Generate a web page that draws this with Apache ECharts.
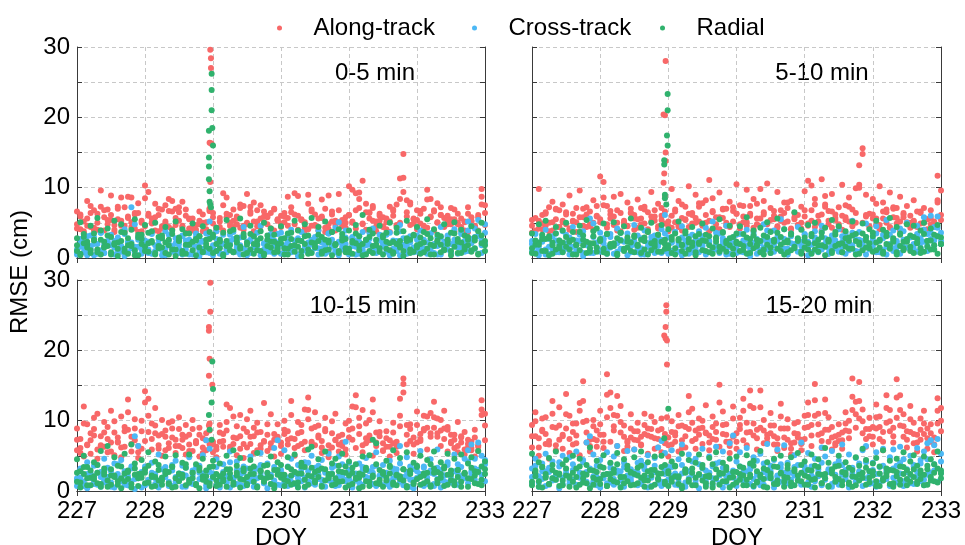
<!DOCTYPE html>
<html>
<head>
<meta charset="utf-8">
<script src="https://cdn.jsdelivr.net/npm/echarts@6/dist/echarts.min.js"></script>
<style>
  html, body { margin: 0; padding: 0; background: #fff; }
  #main { width: 965px; height: 545px; }
</style>
</head>
<body>
<div id="main"></div>
<script>
// epochs (DOY), shared by every panel
var epochs = [
  227, 227.05, 227.1, 227.15, 227.2, 227.25, 227.3, 227.35, 227.4, 227.45,
  227.5, 227.55, 227.6, 227.65, 227.7, 227.75, 227.8, 227.85, 227.9, 227.95,
  228, 228.05, 228.1, 228.15, 228.2, 228.25, 228.3, 228.35, 228.4, 228.45,
  228.5, 228.55, 228.6, 228.65, 228.7, 228.75, 228.8, 228.85, 228.9, 228.95,
  229, 229.05, 229.1, 229.15, 229.2, 229.25, 229.3, 229.35, 229.4, 229.45,
  229.5, 229.55, 229.6, 229.65, 229.7, 229.75, 229.8, 229.85, 229.9, 229.95,
  230, 230.05, 230.1, 230.15, 230.2, 230.25, 230.3, 230.35, 230.4, 230.45,
  230.5, 230.55, 230.6, 230.65, 230.7, 230.75, 230.8, 230.85, 230.9, 230.95,
  231, 231.05, 231.1, 231.15, 231.2, 231.25, 231.3, 231.35, 231.4, 231.45,
  231.5, 231.55, 231.6, 231.65, 231.7, 231.75, 231.8, 231.85, 231.9, 231.95,
  232, 232.05, 232.1, 232.15, 232.2, 232.25, 232.3, 232.35, 232.4, 232.45, 232.5,
  232.55, 232.6, 232.65, 232.7, 232.75, 232.8, 232.85, 232.9, 232.95, 233
];

// ---- 0-5 min ----
var p1AlongA = [
  6.6, 4.1, 5.2, 8.1, 7.4, 3.9, 6.3, 9.6, 5.8, 6.9,
  8.9, 4.7, 5.5, 8.6, 7.2, 8.7, 5.1, 6.4, 7.8, 3.8,
  10.3, 9.4, 5.6, 7.7, 6.1, 4.5, 7.5, 8.4, 6.6, 7.0,
  5.3, 8.0, 6.9, 4.2, 5.6, 3.6, 4.8, 6.2, 5.1, 6.7,
  4.9, 4.3, 5.7, 9.2, 8.6, 6.1, 5.3, 5.9, 7.6, 4.6,
  9.1, 7.3, 5.2, 6.8, 7.5, 5.9, 4.8, 6.4, 6.9, 5.4,
  6.0, 5.1, 8.7, 6.5, 9.2, 8.8, 5.4, 4.3, 9.0, 6.6,
  4.7, 5.6, 8.3, 7.0, 4.1, 6.2, 5.3, 9.1, 4.9, 5.8,
  10.2, 9.7, 6.8, 9.3, 11.0, 7.7, 6.5, 7.1, 5.2, 6.0,
  4.5, 5.6, 7.3, 6.7, 7.6, 11.3, 14.8, 8.2, 7.9, 5.5,
  6.8, 4.9, 7.0, 9.7, 8.4, 6.6, 7.8, 6.1, 5.7, 4.8, 7.1,
  5.5, 6.3, 4.4, 5.1, 7.2, 5.8, 4.6, 6.1, 9.8, 7.5
];
var p1AlongB = [
  4.8, 6.2, 3.5, 5.6, 4.4, 6.8, 4.0, 7.3, 3.9, 5.4,
  6.1, 3.7, 7.0, 5.3, 4.6, 5.9, 8.6, 4.2, 6.4, 5.0,
  8.5, 6.3, 4.9, 5.8, 3.8, 6.9, 5.2, 4.4, 8.1, 5.7,
  7.2, 4.6, 6.0, 5.5, 3.9, 4.7, 6.6, 5.0, 4.1, 7.0,
  6.4, 3.8, 4.4, 7.5, 5.8, 4.6, 6.9, 5.6, 4.3, 7.4,
  5.0, 6.3, 7.9, 4.5, 5.6, 6.6, 5.8, 4.2, 7.0, 5.3,
  4.9, 6.4, 5.7, 7.2, 4.8, 6.0, 5.5, 3.9, 7.7, 4.6,
  6.2, 4.4, 5.9, 3.7, 8.9, 5.2, 4.7, 6.8, 5.4, 4.3,
  6.1, 5.0, 9.2, 7.1, 4.8, 6.5, 5.6, 7.4, 4.5, 6.3,
  5.8, 4.1, 5.2, 6.9, 4.7, 8.4, 11.4, 5.9, 7.6, 4.9,
  5.4, 6.7, 4.2, 8.3, 5.9, 6.8, 5.0, 7.2, 4.6, 6.0, 5.5,
  6.9, 4.8, 5.6, 3.9, 6.3, 5.2, 4.4, 5.8, 8.7, 6.4
];
var p1AlongC = [
  4.2, 5.9, 3.8, 4.6, 6.4, 4.3, 5.0, 3.9, 6.8, 4.8,
  5.4, 4.0, 7.3, 4.6, 3.8, 5.7, 4.4, 6.2, 3.7, 5.3,
  4.5, 6.0, 5.1, 3.9, 7.0, 4.2, 4.9, 6.7, 4.1, 4.7,
  6.5, 4.4, 3.6, 5.6, 4.5, 4.0, 5.3, 3.8, 5.0, 7.0,
  5.8, 4.3, 5.2, 3.9, 6.3, 5.0, 4.4, 4.8, 7.1, 4.0,
  4.8, 6.6, 3.8, 5.2, 4.5, 5.1, 6.0, 4.2, 3.9, 5.5,
  4.4, 5.9, 4.6, 3.7, 6.2, 4.0, 5.4, 5.1, 4.1, 6.9,
  4.6, 3.9, 5.7, 4.3, 4.8, 6.6, 3.9, 5.1, 4.5, 5.0,
  6.1, 5.2, 4.2, 8.4, 4.9, 4.0, 6.4, 5.3, 3.8, 5.3,
  4.4, 5.1, 3.7, 6.0, 4.6, 5.0, 9.4, 6.5, 4.7, 5.6,
  4.1, 6.3, 4.6, 4.3, 5.8, 3.9, 5.1, 6.1, 4.4, 5.4, 4.8,
  3.8, 5.0, 4.2, 5.2, 3.7, 5.3, 4.5, 3.9, 7.6, 4.7
];
var p1CrossA = [
  1.2, 2.4, 0.8, 3.1, 1.7, 2.9, 0.6, 3.6, 1.9, 2.2,
  3.3, 1.5, 2.7, 0.9, 4.1, 2.3, 7.2, 4.8, 1.6, 3.0,
  2.1, 0.7, 3.4, 1.8, 2.6, 1.1, 3.8, 2.0, 0.9, 2.8,
  1.4, 3.2, 2.5, 0.5, 1.9, 3.0, 2.2, 1.3, 3.5, 5.2,
  0.4, 2.7, 1.6, 3.3, 0.8, 2.4, 3.7, 1.5, 2.9, 4.4,
  1.0, 2.6, 3.1, 1.7, 4.6, 2.0, 0.9, 3.4, 2.5, 1.2,
  3.6, 1.8, 2.3, 4.0, 1.1, 2.8, 0.7, 3.2, 1.9, 2.6,
  1.4, 3.9, 2.2, 0.8, 3.5, 1.6, 4.3, 5.1, 2.0, 2.9,
  1.3, 3.0, 2.4, 0.6, 3.7, 1.8, 2.7, 4.2, 1.5, 3.3,
  2.1, 0.9, 3.6, 2.5, 1.2, 4.7, 2.8, 1.7, 3.1, 0.8,
  2.6, 3.9, 1.4, 2.2, 3.5, 0.7, 2.9, 4.4, 1.9, 3.2, 2.0,
  4.1, 1.6, 3.7, 2.3, 5.2, 4.6, 3.0, 5.4, 2.5, 4.8
];
var p1CrossB = [
  0.5, 1.6, 2.2, 0.9, 1.3, 0.4, 2.0, 1.1, 0.7, 1.8,
  0.6, 2.4, 1.0, 1.7, 0.3, 2.1, 1.4, 0.8, 2.6, 1.2,
  1.5, 2.3, 0.6, 1.0, 1.9, 0.4, 1.3, 2.5, 1.7, 0.8,
  2.0, 0.5, 1.2, 2.2, 0.9, 1.6, 0.3, 2.4, 1.1, 0.7,
  1.8, 1.0, 2.6, 0.6, 1.4, 2.1, 0.8, 1.9, 0.5, 1.3,
  2.3, 0.7, 1.5, 2.0, 0.4, 1.2, 2.5, 0.9, 1.7, 2.2,
  0.6, 1.4, 2.1, 0.8, 1.6, 0.3, 2.4, 1.1, 0.7, 1.9,
  2.2, 0.5, 1.3, 1.8, 0.9, 2.6, 1.0, 0.4, 1.5, 2.0,
  0.8, 1.7, 0.5, 2.3, 1.2, 0.6, 1.9, 1.4, 2.5, 0.9,
  1.6, 2.1, 0.7, 1.3, 2.4, 0.4, 1.8, 1.0, 2.2, 1.5,
  0.9, 1.4, 2.6, 0.6, 1.1, 2.0, 1.7, 0.5, 2.3, 1.2, 0.8,
  1.9, 0.6, 1.5, 2.4, 1.0, 2.7, 1.3, 3.2, 0.7, 2.1
];
var p1CrossC = [
  0.9, 2.7, 1.5, 0.4, 3.2, 2.0, 1.1, 3.6, 0.7, 2.4,
  1.8, 0.5, 2.9, 1.3, 3.4, 0.8, 2.2, 1.6, 3.0, 0.6,
  2.5, 1.2, 3.7, 0.9, 1.9, 2.8, 0.4, 3.3, 1.4, 2.1,
  0.7, 3.1, 1.7, 2.6, 0.5, 3.5, 1.0, 2.3, 0.8, 2.9,
  1.5, 3.8, 0.6, 2.0, 1.2, 3.3, 2.7, 0.9, 1.8, 3.0,
  0.4, 2.4, 1.6, 3.6, 0.8, 2.1, 1.3, 2.9, 0.6, 3.4,
  1.9, 0.7, 3.2, 1.1, 2.5, 0.5, 3.7, 1.5, 2.2, 0.9,
  3.0, 1.4, 2.6, 0.6, 3.5, 1.8, 0.8, 2.3, 1.2, 3.9,
  0.5, 2.8, 1.6, 3.1, 0.9, 2.0, 3.6, 1.3, 0.7, 2.5,
  1.7, 3.3, 0.4, 2.2, 1.0, 3.8, 1.9, 0.6, 2.7, 1.4,
  3.2, 0.8, 2.4, 1.1, 3.5, 1.7, 0.5, 2.9, 1.3, 3.0, 0.7,
  2.6, 1.5, 3.4, 0.9, 3.9, 2.1, 4.2, 3.1, 1.8, 3.6
];
var p1RadialA = [
  2.8, 5.1, 3.4, 1.9, 4.6, 2.5, 5.7, 3.9, 1.6, 4.2,
  3.0, 5.3, 2.2, 4.8, 3.6, 1.8, 4.0, 5.5, 2.9, 3.3,
  4.7, 2.1, 3.8, 5.0, 1.7, 3.2, 4.4, 2.6, 3.9, 5.2,
  2.4, 4.1, 3.5, 1.9, 4.9, 2.7, 3.1, 4.5, 2.0, 3.7,
  3.0, 4.3, 2.3, 3.6, 5.4, 1.8, 4.0, 2.9, 5.6, 3.4,
  2.2, 4.6, 3.1, 1.9, 3.8, 5.0, 2.6, 4.2, 3.3, 2.0,
  4.5, 2.8, 3.5, 1.7, 5.3, 3.9, 2.4, 4.8, 3.2, 5.7,
  2.1, 4.4, 3.0, 5.2, 2.5, 3.7, 1.9, 4.1, 3.4, 2.7,
  3.9, 2.2, 4.7, 3.1, 6.1, 2.6, 4.0, 3.5, 1.8, 4.6,
  2.9, 3.6, 5.0, 2.3, 4.3, 1.7, 3.8, 5.3, 2.6, 3.2,
  4.4, 2.0, 3.7, 5.5, 2.8, 4.1, 3.3, 1.9, 4.8, 2.5, 3.6,
  5.1, 2.7, 4.0, 3.2, 1.8, 4.5, 2.9, 3.8, 5.0, 2.4
];
var p1RadialB = [
  1.0, 0.4, 2.1, 1.5, 0.7, 2.6, 1.2, 0.5, 2.3, 1.7,
  0.8, 1.9, 0.3, 2.4, 1.3, 0.6, 2.0, 1.1, 0.4, 2.7,
  1.6, 0.9, 2.2, 0.5, 1.4, 2.8, 0.7, 1.8, 1.2, 0.3,
  2.5, 1.0, 0.6, 1.9, 2.3, 0.4, 1.5, 0.9, 2.6, 1.3,
  0.7, 2.0, 1.4, 0.3, 2.4, 1.1, 0.8, 2.2, 1.6, 0.5,
  1.9, 1.2, 0.6, 2.5, 1.0, 0.4, 1.7, 2.3, 0.8, 1.4,
  2.1, 0.5, 1.3, 2.7, 0.9, 1.6, 0.3, 2.0, 1.2, 0.7,
  1.5, 2.4, 0.6, 1.1, 2.2, 0.4, 1.8, 1.0, 2.5, 0.8,
  1.3, 0.6, 2.1, 1.7, 0.4, 2.6, 1.0, 0.7, 1.9, 1.4,
  0.5, 2.3, 1.1, 0.8, 2.0, 1.5, 0.3, 2.4, 1.2, 0.9,
  1.8, 0.6, 2.2, 1.3, 0.5, 1.7, 2.5, 0.8, 1.1, 2.0, 0.4,
  1.6, 2.3, 0.7, 1.2, 2.6, 0.9, 1.4, 0.5, 2.1, 1.0
];
var p1RadialC = [
  1.8, 0.6, 3.0, 2.3, 1.1, 3.5, 0.8, 2.6, 1.5, 3.2,
  0.5, 2.1, 1.3, 3.7, 0.9, 2.8, 1.7, 0.4, 3.3, 2.0,
  1.0, 3.6, 2.4, 0.7, 3.0, 1.5, 2.2, 0.5, 3.4, 1.2,
  2.9, 0.6, 1.9, 3.5, 1.1, 2.5, 3.1, 0.8, 1.6, 2.7,
  3.3, 1.0, 2.6, 0.5, 1.7, 3.8, 0.9, 2.4, 1.3, 3.0,
  0.7, 3.4, 2.0, 1.1, 2.8, 0.6, 3.2, 1.5, 2.3, 0.9,
  2.7, 1.4, 0.5, 3.6, 1.8, 2.5, 1.0, 3.1, 0.6, 2.2,
  1.6, 3.3, 0.9, 2.6, 1.2, 3.7, 2.0, 0.7, 2.9, 1.4,
  0.8, 2.4, 3.5, 1.1, 2.0, 0.5, 3.0, 1.7, 2.6, 0.9,
  3.2, 1.3, 2.1, 0.6, 3.6, 2.4, 1.0, 2.8, 0.7, 3.3,
  1.5, 2.9, 0.8, 3.4, 1.9, 0.5, 2.3, 3.1, 1.2, 2.6, 1.0,
  3.5, 0.7, 2.2, 1.6, 3.0, 1.1, 2.5, 0.6, 3.2, 1.8
];
var p1SpikeAlong = [[228.96, 29.6], [228.97, 28.4], [228.97, 27.0], [228.95, 16.4], [228.97, 16.3], [228.98, 16.2], [228.96, 10.8], [228.95, 6.7]];
var p1SpikeRadial = [[228.98, 26.2], [228.98, 23.9], [228.98, 21.0], [228.99, 18.5], [228.94, 18.1], [229.0, 16.0], [228.94, 14.3], [228.94, 13.0], [228.94, 11.2], [228.95, 9.5], [228.95, 8.0], [228.96, 7.6], [228.97, 7.2]];

// ---- 5-10 min ----
var p2AlongA = [
  5.4, 3.9, 9.8, 6.1, 4.6, 7.2, 8.0, 5.5, 6.8, 7.6,
  4.8, 8.9, 6.3, 5.1, 9.6, 7.0, 4.4, 6.6, 8.2, 5.9,
  11.6, 10.8, 7.4, 6.2, 8.7, 5.0, 9.1, 4.7, 7.9, 6.4,
  5.6, 8.3, 7.1, 4.9, 6.5, 9.4, 5.3, 7.7, 6.0, 8.8,
  4.5, 9.8, 6.9, 8.1, 5.7, 7.3, 10.2, 6.4, 9.0, 5.2,
  7.8, 6.1, 11.1, 8.5, 5.8, 9.3, 7.0, 4.6, 8.0, 6.7,
  10.5, 7.5, 5.9, 9.7, 6.3, 8.4, 4.8, 9.8, 6.2, 10.6,
  7.1, 5.5, 9.4, 6.8, 7.9, 5.2, 8.1, 6.4, 4.7, 7.3,
  9.5, 11.0, 10.3, 7.6, 6.0, 11.2, 8.8, 6.7, 9.1, 5.4,
  7.2, 10.4, 5.8, 8.6, 6.9, 9.9, 13.2, 14.8, 9.0, 6.3,
  8.4, 5.6, 10.2, 7.9, 6.5, 9.3, 7.0, 5.7, 8.7, 6.2, 7.4,
  5.0, 8.2, 6.6, 4.9, 7.1, 5.5, 6.8, 4.6, 11.7, 9.6
];
var p2AlongB = [
  3.6, 5.7, 4.2, 4.9, 6.3, 3.8, 5.1, 6.9, 4.4, 5.3,
  6.5, 4.0, 5.2, 7.1, 3.7, 5.8, 6.2, 4.5, 5.0, 7.4,
  5.5, 8.6, 4.8, 6.7, 5.9, 3.9, 6.4, 5.3, 4.6, 7.0,
  6.1, 4.3, 5.6, 7.3, 4.1, 5.9, 6.8, 4.5, 5.4, 6.6,
  3.8, 6.0, 5.1, 4.4, 7.6, 5.5, 6.3, 4.9, 5.7, 7.8,
  4.7, 8.2, 5.3, 6.5, 4.2, 5.8, 6.9, 5.0, 4.6, 7.2,
  6.3, 4.8, 7.4, 5.1, 6.0, 4.3, 7.7, 5.6, 8.1, 4.9,
  5.4, 6.7, 4.5, 5.9, 6.4, 7.9, 4.2, 5.5, 6.1, 5.0,
  6.8, 4.6, 5.3, 8.4, 5.0, 6.2, 7.3, 4.8, 6.6, 5.7,
  4.4, 6.0, 7.5, 5.2, 4.9, 6.4, 10.4, 15.6, 5.9, 4.5,
  6.2, 7.7, 4.7, 5.6, 6.9, 4.3, 5.8, 7.1, 5.2, 6.4, 4.8,
  6.0, 5.3, 4.4, 6.6, 5.0, 4.1, 5.7, 5.2, 7.9, 6.1
];
var p2AlongC = [
  4.6, 3.8, 5.3, 4.1, 6.5, 5.0, 3.9, 7.0, 4.4, 5.1,
  6.2, 4.2, 5.3, 3.7, 5.8, 4.6, 7.2, 4.8, 4.0, 6.0,
  5.1, 7.5, 4.3, 5.6, 4.7, 6.8, 3.8, 5.0, 4.5, 6.4,
  4.0, 5.5, 4.8, 6.9, 3.7, 5.2, 5.9, 4.2, 7.1, 4.9,
  5.2, 4.3, 6.6, 4.6, 3.9, 5.4, 4.4, 6.1, 5.0, 7.3,
  4.6, 5.0, 3.8, 6.7, 4.8, 4.1, 5.7, 7.0, 4.4, 5.2,
  6.3, 4.2, 5.1, 4.6, 7.4, 3.9, 5.6, 4.5, 6.5, 4.8,
  3.8, 6.0, 4.3, 5.3, 5.0, 7.1, 4.0, 5.8, 4.7, 4.2,
  5.9, 4.9, 6.8, 4.4, 5.2, 3.9, 7.6, 5.3, 4.3, 6.2,
  4.8, 4.0, 5.4, 7.3, 4.5, 5.0, 10.0, 5.0, 6.1, 4.3,
  5.6, 4.7, 4.1, 6.6, 5.0, 4.4, 7.2, 4.9, 3.9, 5.8, 5.1,
  4.3, 5.2, 4.6, 6.4, 4.0, 5.5, 4.8, 4.4, 8.2, 5.4
];
var p2CrossA = [
  2.0, 3.4, 1.1, 2.7, 4.0, 1.6, 3.1, 0.8, 2.5, 3.8,
  1.3, 2.9, 4.4, 1.9, 3.3, 0.7, 2.2, 5.6, 4.9, 1.5,
  3.6, 2.1, 0.9, 3.0, 1.8, 4.2, 2.6, 1.2, 3.5, 2.3,
  4.7, 1.4, 2.8, 3.9, 0.6, 2.4, 3.2, 1.7, 4.1, 6.1,
  2.9, 1.0, 3.7, 2.2, 4.5, 1.5, 3.0, 0.8, 2.6, 3.8,
  1.9, 4.3, 2.4, 5.2, 1.2, 3.5, 2.0, 4.6, 1.6, 2.9,
  3.3, 0.9, 2.5, 4.0, 1.8, 3.6, 2.7, 1.1, 4.8, 2.2,
  1.5, 3.9, 2.6, 5.5, 4.1, 1.3, 3.1, 2.0, 4.4, 1.7,
  3.4, 2.3, 0.7, 3.8, 1.9, 4.6, 2.8, 1.4, 3.2, 2.5,
  4.1, 1.6, 3.5, 2.1, 5.3, 1.0, 3.7, 2.4, 4.9, 1.8,
  2.7, 4.5, 1.3, 3.3, 5.4, 2.0, 3.9, 1.5, 4.2, 2.6, 5.0,
  3.1, 1.9, 4.6, 2.8, 5.8, 3.4, 6.0, 4.4, 5.9, 3.6
];
var p2CrossB = [
  0.9, 1.7, 0.4, 2.3, 1.2, 0.6, 1.9, 2.5, 0.8, 1.4,
  2.1, 0.5, 1.6, 1.0, 2.4, 0.3, 1.8, 1.3, 0.7, 2.2,
  1.1, 2.6, 0.6, 1.5, 2.0, 0.9, 1.3, 2.3, 0.4, 1.7,
  2.4, 0.8, 1.4, 0.5, 2.1, 1.6, 0.7, 1.9, 2.6, 1.0,
  0.6, 2.2, 1.2, 1.8, 0.4, 2.5, 1.0, 1.5, 2.0, 0.8,
  1.6, 0.5, 2.3, 1.1, 1.9, 0.7, 2.4, 1.3, 0.6, 2.1,
  1.4, 2.0, 0.8, 1.7, 0.3, 2.2, 1.5, 0.9, 2.6, 1.2,
  0.7, 1.8, 2.4, 1.0, 1.3, 0.5, 2.1, 1.6, 0.9, 2.3,
  1.5, 0.4, 1.9, 2.5, 0.8, 1.2, 2.0, 0.6, 1.7, 2.2,
  1.0, 2.3, 0.6, 1.4, 1.8, 2.6, 0.9, 1.3, 0.5, 2.0,
  1.7, 0.8, 2.4, 1.1, 0.5, 1.9, 1.4, 2.2, 0.7, 1.6, 2.5,
  1.2, 2.0, 0.9, 1.5, 2.3, 1.0, 2.7, 1.8, 3.1, 2.4
];
var p2CrossC = [
  2.4, 0.8, 1.6, 3.1, 0.5, 2.7, 1.3, 3.5, 2.0, 0.9,
  3.3, 1.7, 0.6, 2.5, 1.1, 3.8, 2.2, 0.7, 3.0, 1.4,
  0.9, 2.8, 1.5, 3.4, 0.6, 2.1, 3.6, 1.2, 2.6, 0.8,
  1.9, 3.2, 0.5, 2.4, 1.6, 3.0, 1.0, 2.7, 0.7, 3.5,
  1.3, 2.2, 3.7, 0.9, 2.9, 1.8, 0.6, 3.3, 1.5, 2.5,
  3.1, 0.8, 2.0, 1.4, 3.6, 1.0, 2.8, 0.5, 2.3, 1.7,
  0.7, 3.4, 1.9, 2.6, 1.1, 3.2, 0.6, 2.1, 1.5, 3.9,
  2.4, 0.9, 3.0, 1.3, 2.7, 0.5, 3.5, 1.8, 2.2, 1.0,
  3.3, 1.6, 0.8, 2.9, 1.2, 3.7, 2.0, 0.6, 2.5, 1.4,
  0.9, 3.1, 2.3, 1.1, 3.6, 0.7, 2.6, 1.9, 3.0, 1.2,
  2.1, 3.5, 0.8, 2.8, 1.6, 3.3, 1.0, 2.4, 0.6, 3.8, 1.5,
  2.9, 1.3, 3.4, 2.2, 4.0, 1.7, 3.6, 2.5, 4.3, 2.0
];
var p2RadialA = [
  3.5, 1.9, 4.8, 2.7, 5.3, 3.1, 2.2, 4.4, 1.7, 3.9,
  5.0, 2.5, 3.7, 1.8, 4.6, 3.2, 5.4, 2.1, 3.8, 4.2,
  2.6, 4.9, 3.4, 1.9, 5.1, 2.8, 3.6, 4.5, 2.3, 5.6,
  3.0, 1.8, 4.3, 2.9, 3.7, 5.0, 2.4, 3.3, 4.7, 2.0,
  4.1, 2.6, 3.5, 5.2, 1.9, 3.8, 2.7, 4.4, 3.1, 2.2,
  4.9, 3.3, 1.8, 4.2, 2.9, 5.5, 3.6, 2.4, 4.6, 3.0,
  2.1, 4.5, 3.4, 5.8, 2.7, 3.9, 1.9, 4.3, 3.2, 5.1,
  3.7, 2.3, 5.6, 3.0, 4.1, 2.5, 3.5, 6.5, 2.8, 4.0,
  2.4, 4.7, 3.1, 5.0, 1.8, 3.6, 4.3, 2.6, 5.4, 3.3,
  4.5, 2.1, 3.8, 2.9, 5.2, 3.4, 2.2, 4.9, 3.0, 4.1,
  3.6, 5.3, 2.5, 4.0, 3.1, 5.7, 2.8, 4.4, 3.5, 2.3, 4.8,
  3.2, 4.6, 2.7, 3.9, 5.0, 2.4, 4.2, 3.3, 4.7, 2.9
];
var p2RadialB = [
  1.4, 0.6, 2.2, 1.0, 2.7, 0.4, 1.8, 1.2, 2.5, 0.8,
  1.6, 2.3, 0.5, 1.9, 1.1, 2.6, 0.7, 1.4, 2.1, 0.9,
  2.4, 1.3, 0.6, 2.0, 1.7, 0.4, 2.5, 1.0, 1.5, 2.2,
  0.8, 1.9, 2.6, 1.2, 0.5, 2.1, 1.6, 0.9, 2.3, 1.3,
  1.8, 0.7, 1.4, 2.5, 1.0, 0.6, 2.2, 1.7, 0.4, 2.0,
  1.1, 2.4, 0.8, 1.5, 2.7, 0.9, 1.3, 2.1, 1.8, 0.5,
  2.3, 1.0, 1.7, 0.6, 2.0, 1.4, 2.6, 0.8, 1.2, 1.9,
  0.7, 2.5, 1.3, 1.9, 0.5, 2.2, 1.1, 1.6, 2.4, 0.9,
  1.5, 2.1, 0.6, 1.2, 2.6, 1.8, 0.4, 2.3, 1.0, 1.7,
  2.0, 0.8, 1.6, 2.4, 1.3, 0.5, 1.9, 1.1, 2.5, 1.4,
  0.9, 2.2, 1.5, 0.6, 2.0, 1.3, 2.6, 0.8, 1.7, 1.1, 2.3,
  1.6, 0.7, 2.1, 1.4, 0.9, 2.4, 1.2, 1.8, 0.6, 2.0
];
var p2RadialC = [
  0.7, 2.5, 1.9, 3.3, 1.0, 2.8, 0.6, 3.5, 1.4, 2.2,
  3.0, 1.2, 2.6, 0.5, 3.7, 1.8, 2.3, 0.9, 3.1, 1.5,
  2.7, 0.8, 3.4, 1.6, 2.1, 0.6, 3.6, 1.3, 2.9, 1.0,
  3.2, 1.7, 0.7, 2.4, 3.8, 1.1, 2.0, 3.3, 0.9, 2.6,
  1.4, 3.0, 0.5, 2.7, 1.8, 3.5, 1.2, 2.2, 0.8, 3.4,
  2.5, 1.0, 3.1, 0.6, 2.3, 1.6, 3.7, 0.9, 2.8, 1.3,
  3.5, 2.0, 1.1, 2.9, 0.7, 3.2, 1.7, 2.4, 0.5, 3.0,
  1.5, 2.6, 3.6, 1.0, 2.2, 0.8, 3.3, 1.4, 2.7, 0.6,
  2.9, 1.2, 3.4, 2.1, 0.9, 3.0, 1.6, 2.5, 0.7, 3.7,
  1.9, 0.8, 2.8, 1.3, 3.2, 2.4, 0.6, 3.5, 1.5, 2.1,
  3.1, 1.1, 2.6, 0.9, 3.6, 1.8, 2.3, 0.5, 3.3, 1.4, 2.7,
  1.0, 3.0, 2.2, 0.7, 3.4, 1.6, 2.5, 1.2, 3.1, 2.0
];
var p2SpikeAlong = [[228.96, 28.0], [228.93, 20.4], [228.95, 20.3], [228.96, 15.0], [228.96, 13.8], [228.94, 12.0], [228.93, 10.7]];
var p2SpikeRadial = [[228.99, 23.3], [228.99, 21.0], [228.98, 17.4], [228.99, 16.0], [228.94, 13.9], [228.94, 13.3], [228.95, 9.0], [228.95, 8.5], [228.97, 7.6]];

// ---- 10-15 min ----
var p3AlongA = [
  8.9, 6.1, 12.0, 9.5, 7.2, 8.8, 11.0, 6.5, 9.8, 7.4,
  11.4, 8.3, 6.9, 10.6, 9.1, 13.0, 7.7, 10.2, 6.4, 8.5,
  14.2, 13.1, 9.6, 11.8, 7.9, 10.1, 8.6, 6.8, 9.9, 7.3,
  10.5, 8.0, 9.4, 6.6, 8.8, 7.1, 9.0, 6.2, 8.2, 9.6,
  7.0, 6.3, 9.4, 8.1, 12.3, 11.8, 7.6, 9.2, 10.8, 6.7,
  8.4, 11.4, 7.8, 9.7, 6.5, 12.5, 8.0, 10.9, 7.3, 9.5,
  6.9, 10.0, 8.5, 12.8, 7.4, 9.8, 6.7, 11.6, 13.3, 8.9,
  11.2, 9.3, 7.1, 10.4, 6.5, 8.2, 11.0, 7.8, 6.4, 9.6,
  8.7, 12.0, 13.6, 9.2, 11.5, 7.5, 10.1, 13.0, 8.3, 9.9,
  6.8, 8.5, 7.2, 9.7, 6.3, 13.1, 16.0, 9.4, 8.8, 7.6,
  11.3, 8.1, 10.7, 9.0, 11.1, 12.7, 10.3, 8.6, 11.4, 9.1, 8.0,
  7.3, 9.8, 6.9, 8.4, 6.2, 7.0, 8.7, 6.5, 12.9, 11.0
];
var p3AlongB = [
  5.8, 7.4, 4.9, 6.6, 5.3, 7.9, 4.6, 6.2, 8.3, 5.5,
  6.9, 5.1, 7.6, 4.8, 6.3, 8.7, 5.6, 7.2, 4.7, 6.0,
  7.1, 10.7, 5.9, 8.2, 6.5, 5.0, 7.7, 6.1, 8.9, 5.4,
  6.4, 7.3, 5.2, 8.0, 5.7, 6.8, 4.9, 7.5, 5.8, 6.6,
  5.5, 4.8, 7.0, 6.3, 8.6, 5.9, 6.7, 5.1, 7.8, 4.7,
  6.2, 7.7, 5.4, 8.3, 6.0, 7.1, 5.7, 6.8, 4.9, 7.4,
  5.3, 8.1, 6.6, 7.5, 5.0, 6.4, 8.4, 5.8, 10.2, 7.0,
  6.5, 7.9, 5.4, 8.8, 4.8, 6.2, 7.3, 5.6, 6.9, 5.2,
  7.6, 8.9, 6.1, 10.4, 5.5, 6.8, 7.2, 5.0, 6.4, 7.8,
  5.7, 6.3, 4.9, 6.8, 5.4, 9.2, 15.2, 6.6, 7.1, 5.3,
  6.9, 7.4, 8.6, 5.9, 8.2, 10.5, 7.7, 6.4, 8.9, 5.6, 7.0,
  6.1, 5.5, 7.6, 5.2, 6.7, 5.8, 4.9, 6.3, 10.8, 7.2
];
var p3AlongC = [
  7.3, 5.4, 9.6, 6.5, 8.2, 10.4, 5.9, 7.8, 6.3, 9.1,
  5.6, 9.9, 7.0, 6.2, 8.5, 11.2, 6.7, 8.9, 5.5, 10.0,
  12.6, 8.4, 7.4, 9.3, 6.0, 8.1, 5.8, 9.7, 7.6, 6.4,
  8.8, 6.1, 7.7, 5.7, 10.1, 6.9, 8.0, 5.4, 7.2, 8.6,
  6.6, 5.9, 8.3, 7.1, 9.8, 6.3, 10.6, 7.5, 6.0, 8.9,
  10.2, 6.7, 9.0, 5.8, 8.4, 7.0, 9.5, 6.2, 8.1, 7.7,
  6.4, 8.7, 7.3, 10.8, 6.1, 8.2, 9.4, 7.0, 11.5, 6.8,
  9.1, 7.6, 6.2, 8.5, 5.6, 9.9, 7.2, 6.6, 8.0, 5.9,
  10.0, 7.3, 11.9, 8.1, 6.5, 9.6, 7.9, 11.2, 6.9, 8.4,
  5.8, 7.5, 6.3, 8.3, 7.0, 10.7, 14.0, 8.0, 9.5, 6.6,
  9.4, 7.1, 8.8, 10.6, 7.7, 9.0, 8.2, 10.1, 7.4, 8.7, 6.8,
  8.0, 6.4, 7.8, 5.9, 7.3, 6.1, 7.6, 5.7, 11.6, 9.3
];
var p3CrossA = [
  1.8, 3.2, 0.9, 4.1, 2.5, 1.4, 3.7, 2.0, 4.6, 1.2,
  2.8, 3.9, 1.6, 4.4, 2.3, 0.8, 3.5, 7.8, 6.4, 2.7,
  3.1, 1.5, 4.0, 2.4, 5.2, 1.9, 3.4, 0.7, 2.9, 4.3,
  1.7, 3.6, 2.2, 4.8, 1.0, 3.3, 2.6, 5.1, 7.2, 6.0,
  2.5, 4.5, 1.3, 3.8, 2.1, 5.6, 1.8, 4.2, 2.9, 3.5,
  1.6, 4.9, 2.7, 3.2, 5.4, 1.1, 3.9, 2.3, 6.1, 7.2,
  3.0, 5.8, 1.9, 4.6, 2.4, 3.7, 1.4, 4.1, 2.8, 5.0,
  3.3, 1.7, 4.4, 2.6, 5.3, 1.2, 3.6, 4.9, 2.2, 7.0,
  4.0, 2.5, 1.5, 3.9, 2.9, 4.7, 1.8, 3.4, 5.5, 2.1,
  3.7, 1.3, 4.3, 2.7, 3.1, 6.4, 2.0, 4.8, 3.5, 1.6,
  2.8, 5.7, 3.3, 1.9, 4.5, 2.4, 5.9, 3.0, 1.4, 4.1, 2.6,
  5.2, 3.8, 2.1, 4.6, 5.8, 6.6, 3.2, 6.9, 5.0, 4.4
];
var p3CrossB = [
  0.7, 1.9, 1.3, 0.4, 2.2, 1.0, 2.6, 0.6, 1.5, 2.0,
  1.2, 0.5, 2.4, 1.7, 0.9, 2.1, 1.4, 0.3, 1.8, 2.5,
  0.8, 1.6, 2.3, 1.0, 0.5, 1.9, 2.6, 1.3, 0.7, 2.0,
  1.5, 2.4, 0.6, 1.1, 2.2, 0.9, 1.7, 2.5, 0.4, 1.4,
  2.1, 0.8, 1.6, 2.7, 1.2, 0.5, 1.9, 1.0, 2.3, 0.7,
  1.3, 2.0, 0.6, 1.8, 2.5, 1.1, 0.4, 2.2, 1.5, 0.9,
  2.6, 1.4, 0.7, 2.1, 1.0, 1.8, 2.4, 0.5, 1.3, 2.0,
  0.9, 2.3, 1.6, 0.6, 1.9, 2.5, 1.1, 0.8, 2.2, 1.4,
  1.7, 0.5, 2.4, 1.2, 0.9, 2.0, 1.5, 2.6, 0.7, 1.3,
  2.2, 1.0, 0.6, 1.8, 2.5, 1.3, 0.8, 2.1, 1.6, 0.4,
  1.9, 2.3, 0.7, 1.4, 2.6, 1.0, 1.7, 0.5, 2.2, 1.2, 1.8,
  0.9, 2.4, 1.5, 2.0, 1.1, 2.8, 1.6, 3.0, 2.3, 1.4
];
var p3CrossC = [
  1.5, 3.0, 0.7, 2.4, 1.9, 3.6, 0.9, 2.7, 1.2, 3.3,
  0.6, 2.1, 3.8, 1.4, 2.8, 0.8, 3.2, 1.7, 2.3, 0.5,
  3.5, 1.1, 2.6, 1.8, 0.7, 3.1, 2.0, 0.9, 3.7, 1.3,
  2.5, 0.6, 3.3, 1.6, 2.9, 1.0, 3.6, 2.2, 0.8, 2.7,
  1.9, 3.4, 0.5, 2.3, 1.2, 4.1, 1.7, 3.0, 0.9, 2.6,
  3.2, 1.4, 2.0, 0.7, 3.7, 1.8, 2.5, 1.0, 3.4, 2.9,
  0.8, 2.2, 3.5, 1.3, 2.7, 0.6, 3.1, 1.9, 4.0, 1.1,
  2.4, 3.6, 0.9, 2.8, 1.5, 3.3, 0.7, 2.1, 3.8, 1.6,
  3.0, 1.2, 2.5, 0.5, 3.4, 1.9, 2.8, 1.0, 3.6, 2.2,
  0.8, 2.6, 1.4, 3.2, 2.0, 3.9, 1.1, 2.7, 0.6, 3.1,
  1.7, 2.4, 3.5, 1.0, 2.9, 0.7, 3.3, 1.5, 2.2, 3.7, 1.2,
  2.8, 0.9, 3.4, 1.8, 4.2, 2.5, 4.6, 3.0, 1.6, 3.8
];
var p3RadialA = [
  4.5, 2.8, 5.0, 3.4, 1.9, 4.1, 2.6, 5.7, 3.2, 6.4,
  2.2, 4.8, 3.6, 1.8, 5.3, 2.9, 6.6, 3.9, 2.4, 4.4,
  3.1, 5.5, 2.0, 4.2, 3.7, 1.9, 4.9, 2.7, 3.5, 5.1,
  2.5, 4.0, 3.3, 5.2, 1.8, 3.8, 2.9, 4.6, 2.1, 3.4,
  4.3, 2.4, 3.9, 1.7, 5.0, 3.1, 5.8, 2.6, 4.7, 3.2,
  2.0, 4.4, 3.5, 5.4, 2.8, 3.6, 1.9, 4.9, 3.0, 4.1,
  3.7, 2.3, 4.8, 3.1, 5.2, 2.5, 4.0, 3.4, 5.9, 6.3,
  2.7, 4.5, 3.2, 5.6, 2.1, 3.9, 4.6, 2.8, 5.3, 3.5,
  4.2, 2.6, 3.8, 1.9, 4.9, 3.3, 5.1, 7.3, 6.8, 3.0,
  2.4, 4.3, 3.6, 5.8, 2.2, 4.7, 3.1, 5.5, 2.9, 4.0,
  3.4, 5.0, 2.5, 4.4, 3.8, 5.6, 2.7, 4.1, 3.2, 5.3, 2.3,
  4.6, 3.0, 5.2, 2.6, 3.9, 4.8, 2.8, 5.7, 3.5, 4.2
];
var p3RadialB = [
  1.3, 0.5, 2.4, 1.8, 0.8, 2.1, 1.1, 0.6, 2.7, 1.5,
  0.9, 2.2, 1.4, 0.4, 2.5, 1.7, 1.0, 2.3, 0.7, 1.9,
  2.6, 1.2, 0.6, 2.0, 1.5, 0.9, 2.4, 1.1, 0.5, 1.8,
  1.4, 2.3, 0.8, 1.6, 2.6, 1.0, 0.4, 2.1, 1.3, 0.7,
  2.0, 1.5, 0.9, 2.5, 0.6, 1.8, 1.2, 2.2, 0.5, 1.6,
  0.8, 2.4, 1.3, 0.6, 2.0, 1.7, 2.6, 1.0, 0.4, 2.3,
  1.9, 0.7, 1.4, 2.2, 1.1, 0.5, 2.5, 1.6, 0.9, 2.1,
  1.2, 2.0, 0.6, 1.5, 2.4, 0.8, 1.8, 1.3, 2.7, 0.5,
  2.2, 1.0, 1.7, 0.4, 2.3, 1.4, 0.7, 2.0, 1.1, 1.6,
  0.6, 1.9, 2.5, 1.2, 0.8, 2.1, 1.5, 0.5, 2.4, 1.0,
  1.7, 0.9, 2.2, 1.4, 0.6, 2.6, 1.1, 1.9, 0.7, 2.3, 1.5,
  0.8, 2.0, 1.3, 2.5, 0.6, 1.7, 2.2, 1.0, 1.6, 2.4
];
var p3RadialC = [
  2.6, 1.2, 3.4, 0.8, 2.9, 1.7, 3.7, 1.0, 2.3, 0.6,
  3.1, 2.0, 0.9, 3.5, 1.4, 2.7, 0.5, 3.2, 1.8, 2.5,
  1.1, 3.6, 2.2, 0.7, 3.0, 1.5, 2.8, 1.0, 3.4, 0.6,
  2.4, 1.9, 3.8, 1.2, 2.6, 0.8, 3.3, 1.6, 2.9, 1.1,
  3.5, 0.7, 2.1, 1.4, 3.1, 2.5, 0.9, 3.6, 1.7, 2.8,
  1.0, 3.2, 2.4, 0.5, 2.9, 1.3, 3.7, 2.0, 0.8, 3.0,
  2.3, 1.6, 3.4, 0.9, 2.7, 1.2, 3.5, 0.6, 2.2, 3.3,
  1.5, 2.9, 0.7, 3.1, 1.8, 2.4, 1.0, 3.6, 1.4, 2.6,
  0.8, 3.3, 1.9, 2.5, 0.6, 3.0, 1.3, 2.2, 3.8, 1.0,
  2.7, 1.5, 3.4, 0.9, 2.3, 1.7, 3.1, 0.7, 2.8, 1.2,
  3.6, 2.0, 1.1, 2.6, 0.8, 3.2, 1.6, 2.4, 3.5, 0.9, 2.9,
  1.4, 3.0, 0.6, 2.5, 1.8, 3.3, 1.1, 2.7, 0.8, 3.1
];
var p3SpikeAlong = [[228.96, 29.6], [228.96, 25.5], [228.94, 23.3], [228.94, 22.8], [228.95, 18.8], [228.94, 16.4], [228.99, 15.1], [228.94, 9.3]];
var p3SpikeRadial = [[228.99, 18.4], [229.0, 14.5], [228.98, 12.6], [228.94, 10.8], [228.95, 8.7], [228.98, 7.3]];

// ---- 15-20 min ----
var p4AlongA = [
  9.4, 11.2, 7.5, 10.3, 8.1, 6.6, 12.8, 9.0, 11.9, 7.8,
  13.8, 10.7, 8.4, 9.6, 12.5, 15.6, 10.0, 7.3, 9.2, 8.6,
  11.4, 8.0, 16.6, 14.0, 10.8, 13.5, 12.1, 9.3, 7.1, 10.9,
  8.5, 9.7, 7.7, 11.0, 8.9, 10.6, 9.8, 7.4, 8.8, 6.9,
  7.6, 9.9, 8.3, 10.8, 7.2, 9.1, 13.5, 11.7, 8.6, 10.3,
  9.0, 12.2, 7.9, 10.6, 8.4, 15.1, 11.3, 9.5, 7.0, 12.0,
  8.2, 10.4, 13.1, 9.7, 14.3, 11.8, 8.7, 14.3, 10.1, 8.0,
  11.1, 9.3, 7.5, 12.4, 8.9, 10.2, 6.8, 9.6, 8.1, 7.3,
  10.7, 12.6, 9.4, 15.2, 11.0, 8.2, 13.0, 10.5, 9.1, 7.8,
  9.5, 8.3, 11.2, 10.0, 16.0, 12.7, 15.5, 11.6, 8.8, 10.4,
  9.1, 12.3, 10.6, 8.4, 13.6, 11.5, 9.0, 15.9, 13.6, 10.9, 8.5,
  12.1, 9.7, 8.0, 10.3, 11.4, 8.9, 9.5, 7.6, 13.2, 11.8
];
var p4AlongB = [
  6.2, 7.8, 5.0, 8.5, 6.7, 4.6, 9.1, 5.8, 7.3, 6.0,
  8.9, 5.4, 6.6, 7.9, 5.1, 9.8, 6.9, 5.6, 7.4, 6.3,
  8.0, 6.1, 10.5, 7.0, 9.2, 6.4, 8.3, 5.7, 6.9, 7.6,
  5.9, 7.2, 6.5, 8.1, 5.3, 7.7, 6.0, 8.6, 5.5, 6.8,
  4.9, 6.6, 7.9, 5.6, 9.3, 6.2, 8.8, 7.1, 6.0, 8.0,
  6.7, 8.3, 5.8, 7.4, 9.6, 6.3, 8.1, 7.0, 5.4, 7.7,
  6.0, 9.4, 7.2, 6.5, 8.4, 7.9, 5.9, 9.0, 6.8, 7.5,
  8.2, 6.6, 5.7, 8.9, 6.1, 7.3, 5.2, 6.9, 7.6, 5.8,
  7.4, 9.1, 6.4, 10.7, 8.0, 6.1, 8.7, 7.0, 5.9, 6.5,
  7.1, 6.0, 8.6, 7.5, 11.5, 9.0, 10.3, 8.2, 6.3, 7.8,
  6.6, 8.9, 7.4, 5.8, 9.7, 8.5, 6.9, 10.4, 9.3, 7.7, 6.2,
  8.4, 6.8, 5.6, 7.3, 8.1, 6.0, 7.0, 5.5, 9.6, 8.5
];
var p4AlongC = [
  7.8, 9.9, 6.2, 8.7, 10.5, 7.1, 11.0, 6.5, 9.3, 8.0,
  10.9, 7.4, 9.6, 6.8, 11.4, 12.8, 8.3, 6.4, 10.1, 7.2,
  9.5, 7.0, 13.7, 11.8, 8.6, 10.7, 9.8, 7.7, 6.3, 8.9,
  7.3, 8.5, 6.6, 9.4, 7.9, 8.8, 7.5, 6.2, 10.3, 8.1,
  6.5, 8.4, 7.0, 9.2, 6.1, 7.8, 11.2, 9.7, 7.4, 8.9,
  10.0, 8.2, 6.9, 9.1, 7.3, 12.6, 9.4, 8.0, 6.4, 10.3,
  7.0, 8.8, 11.4, 8.3, 12.1, 9.6, 7.5, 11.9, 8.6, 6.9,
  9.3, 7.8, 6.6, 10.6, 7.6, 8.9, 6.0, 8.2, 9.8, 6.7,
  9.0, 10.8, 7.9, 12.9, 9.5, 7.1, 11.1, 8.7, 7.6, 6.8,
  8.0, 7.2, 9.6, 8.5, 13.4, 10.9, 12.8, 9.9, 7.4, 8.8,
  7.7, 10.5, 9.1, 7.0, 11.8, 9.9, 7.8, 13.3, 11.5, 9.2, 7.3,
  10.2, 8.1, 6.9, 8.7, 9.6, 7.5, 8.2, 6.6, 11.4, 10.0
];
var p4CrossA = [
  3.2, 4.6, 2.1, 3.9, 5.3, 2.7, 4.2, 1.6, 3.5, 5.0,
  2.4, 4.8, 3.0, 5.6, 1.9, 4.1, 6.9, 7.8, 5.2, 3.6,
  4.4, 2.2, 5.5, 3.3, 4.9, 6.4, 2.8, 4.0, 5.7, 3.1,
  5.9, 2.6, 4.3, 3.7, 5.1, 2.0, 4.7, 6.2, 7.1, 5.4,
  3.4, 5.8, 2.5, 4.5, 6.6, 3.0, 5.2, 2.3, 4.6, 3.8,
  6.0, 2.9, 4.9, 3.5, 6.3, 4.1, 5.6, 3.2, 6.8, 7.9,
  4.2, 5.5, 2.7, 6.1, 3.6, 4.8, 2.4, 5.3, 3.9, 6.7,
  2.8, 4.4, 5.9, 3.3, 6.5, 4.0, 2.6, 5.1, 3.7, 6.9,
  3.5, 5.4, 2.2, 4.6, 3.1, 6.2, 4.9, 2.9, 5.7, 3.8,
  4.3, 6.6, 3.0, 5.2, 2.5, 4.7, 3.9, 5.8, 6.4, 2.8,
  4.0, 5.5, 3.4, 6.0, 2.7, 4.8, 5.9, 3.6, 6.3, 4.5, 3.1,
  5.0, 3.7, 6.1, 4.4, 5.6, 6.8, 7.2, 6.5, 7.4, 5.3
];
var p4CrossB = [
  1.1, 2.3, 0.6, 1.7, 2.8, 0.9, 1.5, 2.1, 0.4, 1.9,
  2.5, 1.0, 1.6, 0.7, 2.2, 1.3, 2.7, 0.8, 1.4, 2.0,
  0.5, 1.8, 2.4, 1.2, 0.9, 2.6, 1.5, 0.6, 2.1, 1.7,
  2.3, 0.8, 1.4, 2.0, 0.5, 1.9, 2.7, 1.1, 0.7, 2.4,
  1.6, 2.2, 0.9, 1.3, 2.5, 0.6, 1.8, 2.3, 1.0, 0.4,
  2.0, 1.4, 2.6, 0.8, 1.7, 2.2, 0.5, 1.2, 2.4, 1.9,
  0.7, 2.1, 1.5, 2.8, 1.0, 0.6, 2.3, 1.6, 0.9, 2.5,
  1.8, 0.5, 2.0, 1.3, 2.6, 1.1, 0.7, 2.2, 1.5, 0.9,
  2.4, 1.2, 0.6, 1.9, 2.1, 0.8, 1.6, 2.7, 1.0, 1.4,
  0.9, 2.3, 1.7, 0.5, 2.0, 1.3, 2.6, 0.7, 1.8, 2.2,
  1.1, 0.6, 2.4, 1.5, 2.9, 0.8, 1.9, 1.2, 2.5, 0.7, 1.6,
  2.2, 1.0, 2.7, 1.4, 0.8, 2.3, 1.8, 2.9, 1.3, 2.6
];
var p4CrossC = [
  2.0, 3.6, 1.2, 2.8, 0.7, 3.3, 1.8, 2.4, 4.1, 1.0,
  3.0, 1.5, 3.8, 0.9, 2.6, 4.4, 1.3, 3.2, 2.1, 0.8,
  3.5, 2.3, 1.1, 3.9, 1.7, 2.9, 0.6, 3.4, 2.2, 1.4,
  2.7, 4.0, 1.0, 3.1, 1.9, 0.7, 3.6, 2.5, 1.3, 3.0,
  1.6, 3.4, 2.0, 0.8, 3.7, 1.2, 2.8, 4.2, 1.5, 2.3,
  3.2, 0.9, 2.6, 1.8, 3.9, 1.1, 3.3, 2.1, 0.6, 2.9,
  1.4, 3.5, 2.4, 1.0, 3.1, 1.7, 4.3, 0.8, 2.7, 1.9,
  3.6, 1.2, 2.2, 3.8, 0.7, 2.5, 1.6, 3.4, 2.0, 1.1,
  2.9, 0.9, 3.5, 1.4, 2.6, 4.0, 1.8, 3.1, 0.6, 2.3,
  1.5, 3.7, 2.1, 0.8, 3.3, 1.3, 2.8, 1.9, 4.1, 1.0,
  3.0, 2.4, 1.2, 3.6, 1.7, 0.7, 3.2, 2.2, 4.0, 1.4, 2.7,
  1.1, 3.5, 2.0, 3.9, 1.6, 4.5, 2.6, 3.8, 1.3, 4.2
];
var p4RadialA = [
  5.3, 2.6, 4.1, 3.4, 1.9, 4.7, 3.0, 5.6, 2.3, 3.8,
  4.4, 2.1, 5.0, 3.2, 4.6, 1.8, 3.7, 6.2, 2.9, 4.3,
  3.5, 5.1, 2.4, 4.0, 3.1, 5.4, 2.0, 4.5, 3.6, 2.7,
  4.8, 3.3, 5.6, 2.2, 4.1, 3.0, 4.9, 2.5, 5.0, 3.7,
  2.8, 4.2, 3.6, 1.9, 5.3, 3.1, 4.4, 2.6, 4.0, 5.2,
  3.3, 2.1, 4.7, 3.8, 5.5, 2.4, 4.0, 3.0, 4.6, 2.7,
  4.9, 3.5, 2.2, 5.1, 3.9, 4.3, 2.8, 5.7, 3.2, 4.1,
  2.5, 4.6, 3.4, 5.0, 2.0, 3.7, 4.8, 3.1, 5.4, 2.6,
  4.2, 3.0, 5.2, 3.6, 4.5, 2.3, 6.1, 4.0, 2.9, 3.5,
  5.0, 2.7, 4.1, 3.3, 2.1, 4.8, 3.6, 6.0, 4.4, 2.8,
  3.9, 4.7, 2.5, 5.8, 3.2, 4.3, 2.9, 4.6, 3.5, 5.5, 3.0,
  4.2, 5.1, 3.6, 2.4, 4.9, 3.1, 4.5, 3.8, 5.6, 2.9
];
var p4RadialB = [
  0.8, 2.1, 1.4, 0.5, 2.4, 1.0, 1.8, 2.6, 0.7, 1.5,
  2.2, 0.6, 1.3, 2.0, 0.9, 2.5, 1.1, 0.4, 1.9, 1.6,
  1.0, 2.3, 0.7, 1.7, 2.6, 1.2, 0.5, 2.0, 1.4, 0.8,
  2.4, 1.1, 1.9, 0.6, 1.5, 2.2, 0.9, 1.6, 2.5, 1.3,
  0.7, 1.8, 2.1, 1.0, 0.4, 2.6, 1.3, 0.8, 1.9, 2.3,
  1.5, 0.6, 2.2, 1.1, 1.8, 0.9, 2.5, 1.4, 0.5, 2.0,
  1.2, 2.4, 0.8, 1.6, 2.0, 0.7, 1.3, 2.3, 1.7, 0.5,
  2.1, 1.0, 1.5, 2.6, 0.6, 1.9, 1.2, 0.8, 2.2, 1.4,
  0.9, 2.0, 1.6, 0.5, 2.4, 1.1, 1.8, 0.7, 2.5, 1.3,
  1.7, 0.8, 2.3, 1.2, 0.6, 2.0, 1.5, 2.6, 0.9, 1.9,
  2.2, 1.4, 0.7, 1.8, 2.5, 1.0, 0.6, 2.1, 1.6, 2.4, 0.8,
  1.3, 2.0, 1.0, 1.7, 2.3, 0.9, 1.5, 2.6, 1.2, 1.8
];
var p4RadialC = [
  1.3, 2.9, 0.6, 3.4, 2.1, 1.0, 3.7, 1.6, 2.5, 0.8,
  3.2, 1.9, 2.6, 0.5, 3.5, 1.2, 2.3, 3.0, 0.9, 2.7,
  1.7, 3.3, 0.7, 2.4, 1.4, 3.8, 2.0, 1.1, 3.1, 2.6,
  0.9, 2.2, 3.6, 1.5, 2.8, 0.6, 3.0, 1.8, 3.4, 1.0,
  2.5, 1.3, 3.5, 2.1, 0.7, 2.9, 1.6, 3.2, 0.8, 2.4,
  3.7, 1.1, 2.0, 0.5, 3.1, 2.6, 1.4, 3.4, 1.9, 0.9,
  2.7, 1.6, 3.3, 0.8, 2.3, 3.6, 1.2, 2.0, 0.6, 3.0,
  1.8, 3.5, 1.0, 2.5, 1.3, 3.2, 0.7, 2.8, 1.5, 3.7,
  2.2, 0.9, 2.9, 1.7, 3.4, 1.1, 2.4, 0.6, 3.1, 2.0,
  3.6, 1.4, 2.6, 1.0, 3.0, 0.8, 2.3, 1.9, 3.3, 1.2,
  2.8, 0.7, 3.5, 1.5, 2.1, 3.0, 1.1, 2.7, 0.9, 3.4, 1.7,
  2.4, 3.1, 1.3, 2.9, 0.8, 3.6, 2.0, 1.4, 3.2, 2.5
];
var p4SpikeAlong = [[228.97, 26.4], [228.97, 25.5], [228.96, 23.3], [228.94, 22.1], [228.96, 21.7], [228.98, 21.4], [228.98, 18.0], [228.98, 10.5]];
var p4SpikeRadial = [[229.0, 11.7], [228.94, 7.5]];

var panelNames = ["0-5 min", "5-10 min", "10-15 min", "15-20 min"];
var xTicks = [227, 233, 1];
var yTicks = [0, 30, 5];

var colors = { along: "#f86868", cross: "#4cb8f5", radial: "#30b26d" };
var font = "Liberation Sans, Arial, sans-serif";

var panels = [
  { along: [p1AlongA, p1AlongB, p1AlongC], cross: [p1CrossA, p1CrossB, p1CrossC], radial: [p1RadialA, p1RadialB, p1RadialC], spikeA: p1SpikeAlong, spikeR: p1SpikeRadial },
  { along: [p2AlongA, p2AlongB, p2AlongC], cross: [p2CrossA, p2CrossB, p2CrossC], radial: [p2RadialA, p2RadialB, p2RadialC], spikeA: p2SpikeAlong, spikeR: p2SpikeRadial },
  { along: [p3AlongA, p3AlongB, p3AlongC], cross: [p3CrossA, p3CrossB, p3CrossC], radial: [p3RadialA, p3RadialB, p3RadialC], spikeA: p3SpikeAlong, spikeR: p3SpikeRadial },
  { along: [p4AlongA, p4AlongB, p4AlongC], cross: [p4CrossA, p4CrossB, p4CrossC], radial: [p4RadialA, p4RadialB, p4RadialC], spikeA: p4SpikeAlong, spikeR: p4SpikeRadial }
];

function pairs(ys) {
  return epochs.map(function (x, i) { return [x, ys[i]]; });
}

var grids = [
  { left: 77, top: 47, width: 408, height: 211 },
  { left: 532, top: 47, width: 409, height: 211 },
  { left: 77, top: 280, width: 408, height: 211 },
  { left: 532, top: 280, width: 409, height: 211 }
];

var xAxes = [], yAxes = [], series = [];
grids.forEach(function (g, k) {
  var bottomRow = k >= 2, leftCol = k % 2 === 0;
  // main axes (bottom / left)
  xAxes.push({
    gridIndex: k, type: "value", min: xTicks[0], max: xTicks[1], interval: xTicks[2],
    axisLine: { lineStyle: { color: "#3a3a3a", width: 1 } },
    axisTick: { inside: true, length: 5, lineStyle: { color: "#3a3a3a" } },
    axisLabel: { show: bottomRow, color: "#000", fontSize: 24, fontFamily: font, margin: 8 },
    splitLine: { show: true, lineStyle: { color: "#c8c8c8", type: [4, 3] } }
  });
  yAxes.push({
    gridIndex: k, type: "value", min: yTicks[0], max: yTicks[1], interval: yTicks[2],
    axisLine: { show: true, lineStyle: { color: "#3a3a3a", width: 1 } },
    axisTick: { show: true, inside: true, length: 5, lineStyle: { color: "#3a3a3a" } },
    axisLabel: {
      show: leftCol, color: "#000", fontSize: 24, fontFamily: font, margin: 7,
      formatter: function (v) { return v % 10 === 0 ? String(v) : ""; }
    },
    splitLine: { show: true, lineStyle: { color: "#c8c8c8", type: [4, 3] } }
  });
});
grids.forEach(function (g, k) {
  // mirror axes (top / right) for the frame and inner ticks
  xAxes.push({
    gridIndex: k, type: "value", position: "top", min: xTicks[0], max: xTicks[1], interval: xTicks[2],
    axisLine: { lineStyle: { color: "#3a3a3a", width: 1 } },
    axisTick: { inside: true, length: 5, lineStyle: { color: "#3a3a3a" } },
    axisLabel: { show: false }, splitLine: { show: false }
  });
  yAxes.push({
    gridIndex: k, type: "value", position: "right", min: yTicks[0], max: yTicks[1], interval: yTicks[2],
    axisLine: { show: true, lineStyle: { color: "#3a3a3a", width: 1 } },
    axisTick: { show: true, inside: true, length: 5, lineStyle: { color: "#3a3a3a" } },
    axisLabel: { show: false }, splitLine: { show: false }
  });
});

function scatter(name, k, data, color) {
  return {
    name: name, type: "scatter", xAxisIndex: k, yAxisIndex: k,
    data: data, symbolSize: 6, itemStyle: { color: color, opacity: 1 },
    silent: true
  };
}

panels.forEach(function (p, k) {
  p.along.forEach(function (ys) { series.push(scatter("Along-track", k, pairs(ys), colors.along)); });
  series.push(scatter("Along-track", k, p.spikeA, colors.along));
  p.cross.forEach(function (ys) { series.push(scatter("Cross-track", k, pairs(ys), colors.cross)); });
  p.radial.forEach(function (ys) { series.push(scatter("Radial", k, pairs(ys), colors.radial)); });
  series.push(scatter("Radial", k, p.spikeR, colors.radial));
});

function legendItem(name, left) {
  return {
    data: [name], left: left, top: 11, icon: "circle", itemWidth: 58, itemHeight: 5,
    selectedMode: false, textStyle: { fontSize: 24, fontFamily: font, color: "#000" }
  };
}

var labelPos = [[375, 73], [822, 73], [363, 306], [819, 306]];
var graphics = panelNames.map(function (t, k) {
  return {
    type: "text", x: labelPos[k][0], y: labelPos[k][1],
    style: { text: t, fontSize: 24, fontFamily: font, fill: "#000", align: "center", verticalAlign: "middle" }
  };
});
graphics.push({
  type: "text", x: 20, y: 272, rotation: Math.PI / 2,
  style: { text: "RMSE (cm)", fontSize: 24, fontFamily: font, fill: "#000", align: "center", verticalAlign: "middle" }
});
graphics.push({
  type: "text", x: 281, y: 538,
  style: { text: "DOY", fontSize: 24, fontFamily: font, fill: "#000", align: "center", verticalAlign: "middle" }
});
graphics.push({
  type: "text", x: 737, y: 538,
  style: { text: "DOY", fontSize: 24, fontFamily: font, fill: "#000", align: "center", verticalAlign: "middle" }
});

var dom = document.getElementById("main");
var myChart = echarts.init(dom, null, { renderer: "canvas" });
var option = {
  animation: false,
  backgroundColor: "#fff",
  legend: [legendItem("Along-track", 272), legendItem("Cross-track", 467), legendItem("Radial", 655)],
  grid: grids,
  xAxis: xAxes,
  yAxis: yAxes,
  series: series,
  graphic: graphics
};
myChart.setOption(option);
</script>
</body>
</html>
